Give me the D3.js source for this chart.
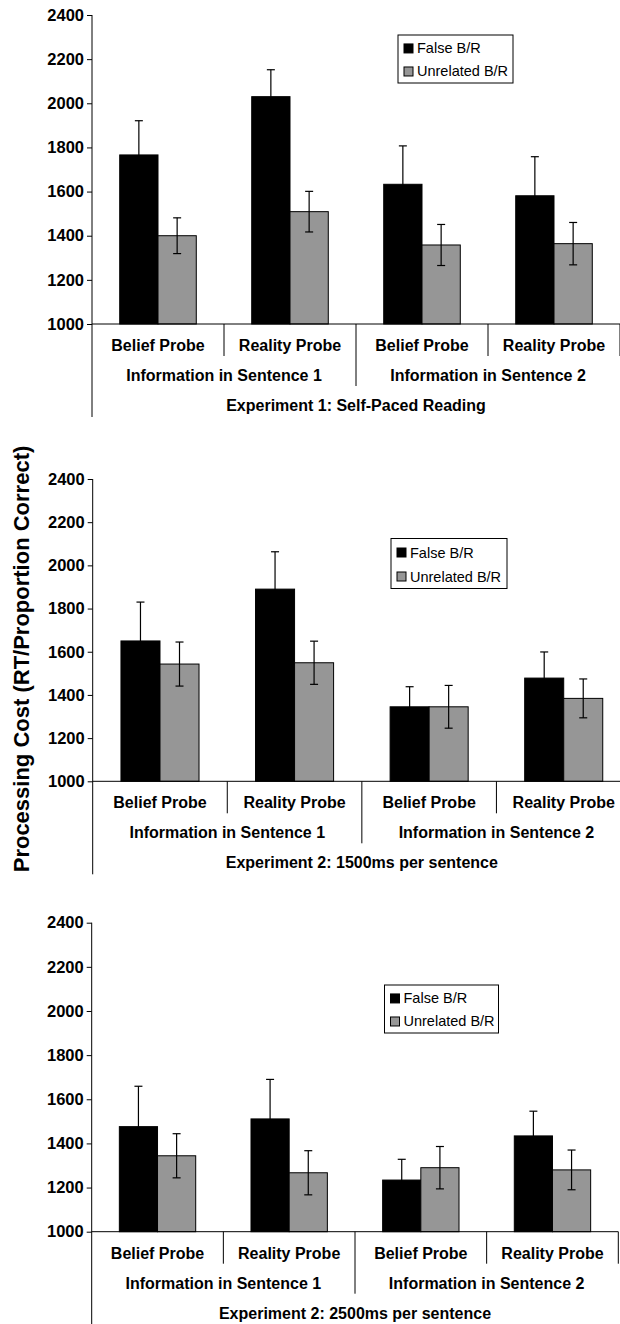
<!DOCTYPE html>
<html>
<head>
<meta charset="utf-8">
<script src="https://cdn.jsdelivr.net/npm/d3@7"></script>
<style>
html,body{margin:0;padding:0;background:#fff;}
svg{display:block;font-family:Arial,"Liberation Sans",Helvetica,sans-serif;}
</style>
</head>
<body>
<svg id="chart" width="620" height="1324"></svg>
<script>
// ---- data ----
const probes = ["Belief Probe", "Reality Probe", "Belief Probe", "Reality Probe"];
const sentenceGroups = ["Information in Sentence 1", "Information in Sentence 2"];
const experiments = ["Experiment 1: Self-Paced Reading", "Experiment 2: 1500ms per sentence", "Experiment 2: 2500ms per sentence"];
const seriesNames = ["False B/R", "Unrelated B/R"];
const yTicks = [1000, 1200, 1400, 1600, 1800, 2000, 2200, 2400];
const yTitle = "Processing Cost (RT/Proportion Correct)";

const exp1False = [1766, 2030, 1633, 1581];
const exp1FalseErr = [155, 122, 174, 177];
const exp1Unrel = [1400, 1509, 1358, 1364];
const exp1UnrelErr = [81, 92, 93, 96];

const exp2aFalse = [1650, 1890, 1345, 1478];
const exp2aFalseErr = [180, 173, 93, 121];
const exp2aUnrel = [1543, 1549, 1345, 1384];
const exp2aUnrelErr = [102, 100, 99, 90];

const exp2bFalse = [1476, 1511, 1234, 1434];
const exp2bFalseErr = [183, 179, 94, 112];
const exp2bUnrel = [1344, 1267, 1290, 1280];
const exp2bUnrelErr = [100, 100, 96, 90];

// ---- layout ----
const panels = [
  {title: experiments[0], vals: [exp1False, exp1Unrel], errs: [exp1FalseErr, exp1UnrelErr],
   yTop: 15, yBot: 324, xL: 92, xR: 620, leg: {x: 398, y: 35, w: 115, h: 48}},
  {title: experiments[1], vals: [exp2aFalse, exp2aUnrel], errs: [exp2aFalseErr, exp2aUnrelErr],
   yTop: 479, yBot: 781.3, xL: 92.7, xR: 631, leg: {x: 391, y: 538.5, w: 116, h: 50}},
  {title: experiments[2], vals: [exp2bFalse, exp2bUnrel], errs: [exp2bFalseErr, exp2bUnrelErr],
   yTop: 922.7, yBot: 1231.7, xL: 91.7, xR: 618.3, leg: {x: 384.5, y: 985, w: 114, h: 48}}
];
const colors = ["#000000", "#969696"];

const svg = d3.select("#chart");

panels.forEach(p => {
  const g = svg.append("g");
  const y = d3.scaleLinear().domain([1000, 2400]).range([p.yBot, p.yTop]);
  const x0 = d3.scaleBand().domain(d3.range(probes.length)).range([p.xL, p.xR]).paddingInner(0).paddingOuter(0);
  const x1 = d3.scaleBand().domain(d3.range(seriesNames.length)).range([0, x0.bandwidth()]).paddingInner(0).paddingOuter(0.724);

  // y axis
  const yAxis = d3.axisLeft(y).tickValues(yTicks).tickSize(5).tickPadding(3).tickFormat(d3.format("d"));
  const ya = g.append("g").attr("transform", `translate(${p.xL},0)`).call(yAxis);
  ya.select(".domain").remove();
  ya.selectAll(".tick line").attr("stroke", "#000");
  ya.selectAll(".tick text").attr("font-size", "16.5px").attr("font-weight", "bold").attr("fill", "#000")
    .attr("font-family", "Arial, 'Liberation Sans', sans-serif");
  // vertical axis line (extends down through label area)
  g.append("line").attr("x1", p.xL).attr("x2", p.xL).attr("y1", y(2400)).attr("y2", p.yBot + 93)
    .attr("stroke", "#000").attr("stroke-width", 1);

  // bars
  seriesNames.forEach((s, si) => {
    g.append("g").selectAll("rect").data(p.vals[si]).join("rect")
      .attr("x", (d, i) => x0(i) + x1(si))
      .attr("y", d => y(d))
      .attr("width", x1.bandwidth())
      .attr("height", d => y(1000) - y(d))
      .attr("fill", colors[si])
      .attr("stroke", "#000").attr("stroke-width", 1);
  });
  // error bars
  seriesNames.forEach((s, si) => {
    const eg = g.append("g").attr("stroke", "#000").attr("stroke-width", 1.2);
    p.vals[si].forEach((v, i) => {
      const cx = x0(i) + x1(si) + x1.bandwidth() / 2;
      const e = p.errs[si][i];
      eg.append("line").attr("x1", cx).attr("x2", cx).attr("y1", y(v + e)).attr("y2", y(v - e));
      eg.append("line").attr("x1", cx - 4).attr("x2", cx + 4).attr("y1", y(v + e)).attr("y2", y(v + e));
      eg.append("line").attr("x1", cx - 4).attr("x2", cx + 4).attr("y1", y(v - e)).attr("y2", y(v - e));
    });
  });

  // x axis line
  g.append("line").attr("x1", p.xL).attr("x2", p.xR).attr("y1", y(1000)).attr("y2", y(1000))
    .attr("stroke", "#000").attr("stroke-width", 1);
  // dividers
  d3.range(1, probes.length + 1).forEach(i => {
    const xx = i < probes.length ? x0(i) : p.xR;
    const len = (i === 2) ? 62 : 32;
    g.append("line").attr("x1", xx).attr("x2", xx).attr("y1", y(1000)).attr("y2", y(1000) + len)
      .attr("stroke", "#000").attr("stroke-width", 1);
  });
  // probe labels
  g.append("g").selectAll("text").data(probes).join("text")
    .attr("x", (d, i) => x0(i) + x0.bandwidth() / 2)
    .attr("y", y(1000) + 27)
    .attr("text-anchor", "middle").attr("font-size", "16px").attr("font-weight", "bold")
    .text(d => d);
  // sentence group labels
  g.append("g").selectAll("text").data(sentenceGroups).join("text")
    .attr("x", (d, i) => x0(i * 2) + x0.bandwidth())
    .attr("y", y(1000) + 57)
    .attr("text-anchor", "middle").attr("font-size", "16px").attr("font-weight", "bold")
    .text(d => d);
  // experiment label
  g.append("text").attr("x", (p.xL + p.xR) / 2).attr("y", y(1000) + 87)
    .attr("text-anchor", "middle").attr("font-size", "16px").attr("font-weight", "bold")
    .text(p.title);

  // legend
  const lg = g.append("g").attr("transform", `translate(${p.leg.x},${p.leg.y})`);
  lg.append("rect").attr("width", p.leg.w).attr("height", p.leg.h).attr("fill", "#fff")
    .attr("stroke", "#000").attr("stroke-width", 1);
  seriesNames.forEach((s, si) => {
    const yy = p.leg.h * (si === 0 ? 0.28 : 0.76);
    lg.append("rect").attr("x", 6).attr("y", yy - 4.5).attr("width", 9).attr("height", 9)
      .attr("fill", colors[si]).attr("stroke", "#000").attr("stroke-width", 1);
    lg.append("text").attr("x", 19).attr("y", yy + 5).attr("font-size", "14.5px").text(s);
  });
});

// y axis title
svg.append("text")
  .attr("transform", "translate(29,659) rotate(-90)")
  .attr("text-anchor", "middle")
  .attr("font-size", "22px").attr("font-weight", "bold")
  .text(yTitle);
</script>
</body>
</html>
